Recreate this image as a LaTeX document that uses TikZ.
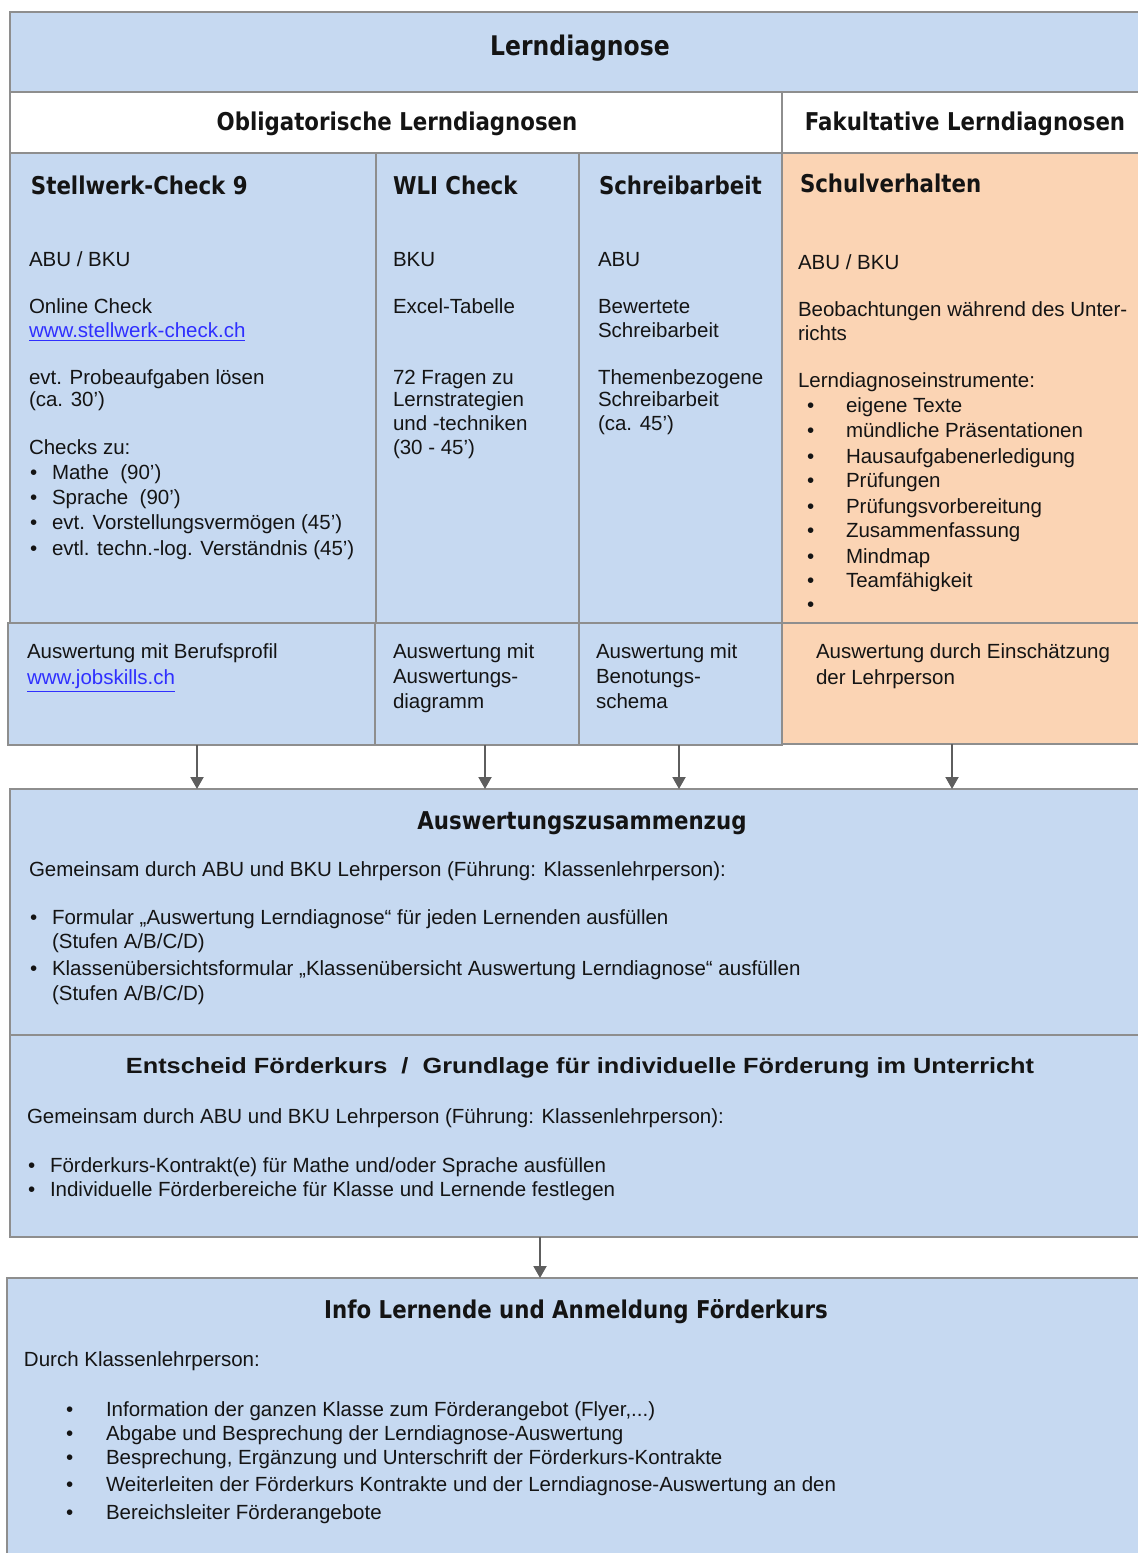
\documentclass[tikz,border=0pt]{standalone}
\usepackage{fontspec}
\setmainfont{Liberation Sans}
\newfontfamily\headf[FakeStretch=0.87]{DejaVu Sans}
\newfontfamily\entf[FakeStretch=1.15]{Liberation Sans}
\usetikzlibrary{arrows.meta,fit}
\definecolor{cblue}{HTML}{C6D9F1}
\definecolor{corange}{HTML}{FBD4B4}
\definecolor{cline}{HTML}{8E8E8E}
\definecolor{carrow}{HTML}{5E5E5E}
\definecolor{clink}{HTML}{2F2FFF}
\definecolor{ctext}{HTML}{141414}
\newcommand\Tx[4]{\node[txt] (#1) at (#2,#3) {#4};}
\newcommand\Lk[4]{\node[txt,text=clink] (#1) at (#2,#3) {\underline{#4}};}
\newcommand\Bl[5]{\node[txt] (#1d) at (#2-4,#4) {\textbullet}; \node[txt] (#1) at (#3,#4) {#5};}
\begin{document}
\begin{tikzpicture}[x=0.5pt,y=-0.5pt,
  cell/.style={draw=cline,line width=1pt,inner sep=0pt,outer sep=0pt},
  bluecell/.style={cell,fill=cblue},
  orcell/.style={cell,fill=corange},
  whitecell/.style={cell,fill=white},
  txt/.style={anchor=base west,inner sep=0pt,outer sep=0pt,text=ctext,font=\fontsize{10.25}{11.75}\selectfont},
  head/.style={anchor=base west,inner sep=0pt,outer sep=0pt,text=ctext,font=\headf\bfseries\fontsize{12.25}{14}\selectfont},
  headc/.style={head,anchor=base},
  arr/.style={draw=carrow,line width=1pt,-{Triangle[width=6.5pt,length=6pt]}}
]
\useasboundingbox (0,0) rectangle (1138,1553);
% ---------- cells ----------
\node[bluecell,fit={(10,12)(1150,92)}] (top) {};
\node[whitecell,fit={(10,92)(782,153)}] (obl) {};
\node[whitecell,fit={(782,92)(1150,153)}] (fak) {};
\node[bluecell,fit={(10,153)(376,623)}] (c1) {};
\node[bluecell,fit={(376,153)(579,623)}] (c2) {};
\node[bluecell,fit={(579,153)(782,623)}] (c3) {};
\node[orcell,fit={(782,153)(1150,623)}] (c4) {};
\node[bluecell,fit={(8,623)(375,745)}] (r1) {};
\node[bluecell,fit={(375,623)(579,745)}] (r2) {};
\node[bluecell,fit={(579,623)(782,745)}] (r3) {};
\node[orcell,fit={(782,623)(1150,744)}] (r4) {};
\node[bluecell,fit={(10,789)(1150,1035)}] (zus) {};
\node[bluecell,fit={(10,1035)(1150,1237)}] (ent) {};
\node[bluecell,fit={(7,1278)(1150,1620)}] (info) {};
% ---------- arrows ----------
\coordinate (ax1) at (197,0);
\coordinate (ax2) at (485,0);
\coordinate (ax3) at (679,0);
\coordinate (ax4) at (952,0);
\coordinate (ax5) at (540,0);
\draw[arr] (r1.south -| ax1) -- (zus.north -| ax1);
\draw[arr] (r2.south -| ax2) -- (zus.north -| ax2);
\draw[arr] (r3.south -| ax3) -- (zus.north -| ax3);
\draw[arr] (r4.south -| ax4) -- (zus.north -| ax4);
\draw[arr] (ent.south -| ax5) -- (info.north -| ax5);
% ---------- headings ----------
\node[headc,font=\headf\bfseries\fontsize{13.5}{15}\selectfont] (tTop) at (580,55) {Lerndiagnose};
\node[headc] (tObl) at (397,130) {Obligatorische Lerndiagnosen};
\node[headc] (tFak) at (965,130) {Fakultative Lerndiagnosen};
\node[head] (h1) at (31,194) {Stellwerk-Check 9};
\node[head] (h2) at (393,194) {WLI Check};
\node[head] (h3) at (599,194) {Schreibarbeit};
\node[head] (h4) at (800,192) {Schulverhalten};
% ---------- column 1 ----------
\Tx{a1}{29}{266}{ABU / BKU}
\Tx{a2}{29}{313}{Online Check}
\Lk{a3}{29}{337}{www.stellwerk-check.ch}
\Tx{a4}{29}{384}{evt. Probeaufgaben lösen}
\Tx{a5}{29}{406}{(ca. 30’)}
\Tx{a6}{29}{454}{Checks zu:}
\Bl{a7}{34}{52}{479}{Mathe\ \ (90’)}
\Bl{a8}{34}{52}{504}{Sprache\ \ (90’)}
\Bl{a9}{34}{52}{529}{evt. Vorstellungsvermögen (45’)}
\Bl{a10}{34}{52}{555}{evtl. techn.-log. Verständnis (45’)}
% ---------- column 2 ----------
\Tx{b1}{393}{266}{BKU}
\Tx{b2}{393}{313}{Excel-Tabelle}
\Tx{b3}{393}{384}{72 Fragen zu}
\Tx{b4}{393}{406}{Lernstrategien}
\Tx{b5}{393}{430}{und -techniken}
\Tx{b6}{393}{454}{(30 - 45’)}
% ---------- column 3 ----------
\Tx{d1}{598}{266}{ABU}
\Tx{d2}{598}{313}{Bewertete}
\Tx{d3}{598}{337}{Schreibarbeit}
\Tx{d4}{598}{384}{Themenbezogene}
\Tx{d5}{598}{406}{Schreibarbeit}
\Tx{d6}{598}{430}{(ca. 45’)}
% ---------- column 4 ----------
\Tx{e1}{798}{269}{ABU / BKU}
\Tx{e2}{798}{316}{Beobachtungen während des Unter-}
\Tx{e3}{798}{340}{richts}
\Tx{e4}{798}{387}{Lerndiagnoseinstrumente:}
\Bl{e5}{811}{846}{412}{eigene Texte}
\Bl{e6}{811}{846}{437}{mündliche Präsentationen}
\Bl{e7}{811}{846}{463}{Hausaufgabenerledigung}
\Bl{e8}{811}{846}{487}{Prüfungen}
\Bl{e9}{811}{846}{513}{Prüfungsvorbereitung}
\Bl{e10}{811}{846}{537}{Zusammenfassung}
\Bl{e11}{811}{846}{563}{Mindmap}
\Bl{e12}{811}{846}{587}{Teamfähigkeit}
\node[txt] (e13d) at (807,611) {\textbullet};
% ---------- row 4 ----------
\Tx{f1}{27}{658}{Auswertung mit Berufsprofil}
\Lk{f2}{27}{684}{www.jobskills.ch}
\Tx{g1}{393}{658}{Auswertung mit}
\Tx{g2}{393}{683}{Auswertungs-}
\Tx{g3}{393}{708}{diagramm}
\Tx{k1}{596}{658}{Auswertung mit}
\Tx{k2}{596}{683}{Benotungs-}
\Tx{k3}{596}{708}{schema}
\Tx{m1}{816}{658}{Auswertung durch Einschätzung}
\Tx{m2}{816}{684}{der Lehrperson}
% ---------- Auswertungszusammenzug ----------
\node[headc] (tZus) at (582,829) {Auswertungszusammenzug};
\Tx{z1}{29}{876}{Gemeinsam durch ABU und BKU Lehrperson (Führung: Klassenlehrperson):}
\Bl{z2}{34}{52}{924}{Formular „Auswertung Lerndiagnose“ für jeden Lernenden ausfüllen}
\Tx{z3}{52}{948}{(Stufen A/B/C/D)}
\Bl{z4}{34}{52}{975}{Klassenübersichtsformular „Klassenübersicht Auswertung Lerndiagnose“ ausfüllen}
\Tx{z5}{52}{1000}{(Stufen A/B/C/D)}
% ---------- Entscheid ----------
\node[anchor=base,inner sep=0pt,text=ctext,font=\entf\bfseries\fontsize{11}{13}\selectfont] (tEnt) at (580,1073) {Entscheid Förderkurs\ \ /\ \ Grundlage für individuelle Förderung im Unterricht};
\Tx{n1}{27}{1123}{Gemeinsam durch ABU und BKU Lehrperson (Führung: Klassenlehrperson):}
\Bl{n2}{32}{50}{1172}{Förderkurs-Kontrakt(e) für Mathe und/oder Sprache ausfüllen}
\Bl{n3}{32}{50}{1196}{Individuelle Förderbereiche für Klasse und Lernende festlegen}
% ---------- Info ----------
\node[headc] (tInfo) at (576,1318) {Info Lernende und Anmeldung Förderkurs};
\Tx{p1}{24}{1366}{Durch Klassenlehrperson:}
\Bl{p2}{70}{106}{1416}{Information der ganzen Klasse zum Förderangebot (Flyer,...)}
\Bl{p3}{70}{106}{1440}{Abgabe und Besprechung der Lerndiagnose-Auswertung}
\Bl{p4}{70}{106}{1464}{Besprechung, Ergänzung und Unterschrift der Förderkurs-Kontrakte}
\Bl{p5}{70}{106}{1491}{Weiterleiten der Förderkurs Kontrakte und der Lerndiagnose-Auswertung an den}
\Bl{p6}{70}{106}{1519}{Bereichsleiter Förderangebote}
\end{tikzpicture}
\end{document}
